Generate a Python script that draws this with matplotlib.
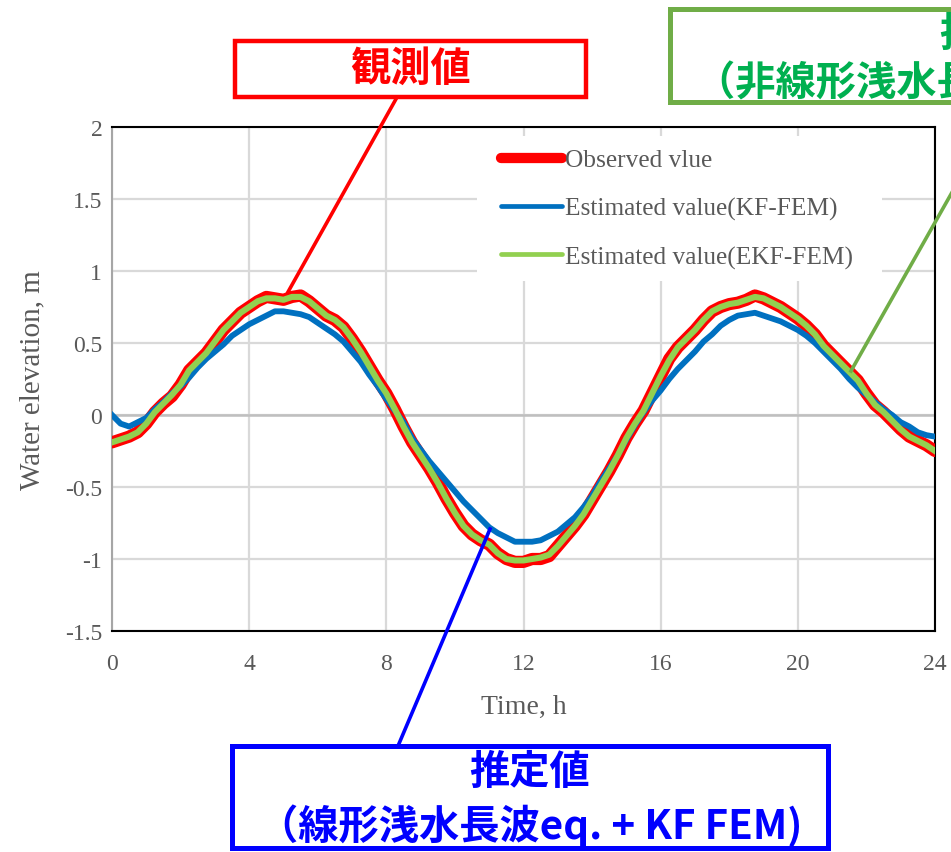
import matplotlib
matplotlib.use("Agg")
import matplotlib.pyplot as plt
import numpy as np
from matplotlib.lines import Line2D
from matplotlib.patches import Rectangle

plt.rcParams["axes.unicode_minus"] = False

# Tidal water elevation over one day, sampled every quarter hour (metres)
time_h = np.arange(0, 24.01, 0.25)

observed = [-0.19, -0.17, -0.15, -0.12, -0.06, 0.02, 0.08, 0.13, 0.21, 0.31,
            0.37, 0.43, 0.51, 0.59, 0.65, 0.71, 0.75, 0.79, 0.82, 0.81,
            0.80, 0.82, 0.83, 0.79, 0.74, 0.69, 0.66, 0.61, 0.53, 0.44,
            0.34, 0.24, 0.15, 0.04, -0.08, -0.19, -0.28, -0.37, -0.47, -0.58,
            -0.68, -0.77, -0.83, -0.87, -0.90, -0.96, -1.00, -1.02, -1.02, -1.00,
            -1.00, -0.98, -0.91, -0.84, -0.77, -0.69, -0.59, -0.49, -0.39, -0.28,
            -0.16, -0.06, 0.03, 0.15, 0.27, 0.39, 0.47, 0.53, 0.59, 0.66,
            0.72, 0.75, 0.77, 0.78, 0.80, 0.83, 0.81, 0.78, 0.75, 0.71,
            0.67, 0.62, 0.56, 0.48, 0.42, 0.36, 0.30, 0.24, 0.15, 0.07,
            0.02, -0.04, -0.10, -0.15, -0.18, -0.21, -0.25]

kf_fem = [0.00, -0.06, -0.08, -0.05, -0.02, 0.04, 0.09, 0.15, 0.20, 0.26,
          0.33, 0.39, 0.44, 0.49, 0.55, 0.59, 0.63, 0.66, 0.69, 0.72,
          0.72, 0.71, 0.70, 0.68, 0.64, 0.60, 0.56, 0.51, 0.44, 0.37,
          0.28, 0.20, 0.11, 0.03, -0.05, -0.16, -0.24, -0.32, -0.39, -0.46,
          -0.53, -0.60, -0.66, -0.72, -0.78, -0.82, -0.85, -0.88, -0.88, -0.88,
          -0.87, -0.84, -0.81, -0.76, -0.71, -0.64, -0.56, -0.46, -0.37, -0.28,
          -0.17, -0.07, 0.02, 0.10, 0.17, 0.25, 0.32, 0.38, 0.44, 0.51,
          0.56, 0.62, 0.66, 0.69, 0.70, 0.71, 0.69, 0.67, 0.65, 0.62,
          0.59, 0.55, 0.50, 0.44, 0.38, 0.32, 0.25, 0.19, 0.14, 0.09,
          0.04, 0.00, -0.05, -0.08, -0.12, -0.14, -0.15]

ekf_fem = [-0.19, -0.17, -0.15, -0.12, -0.06, 0.02, 0.08, 0.14, 0.21, 0.31,
           0.37, 0.43, 0.51, 0.59, 0.65, 0.71, 0.75, 0.79, 0.81, 0.81,
           0.80, 0.82, 0.82, 0.79, 0.74, 0.69, 0.66, 0.61, 0.53, 0.44,
           0.34, 0.24, 0.15, 0.04, -0.08, -0.19, -0.28, -0.37, -0.47, -0.58,
           -0.68, -0.77, -0.83, -0.87, -0.90, -0.96, -1.00, -1.01, -1.01, -1.00,
           -0.99, -0.97, -0.91, -0.84, -0.77, -0.69, -0.59, -0.49, -0.39, -0.28,
           -0.16, -0.06, 0.03, 0.15, 0.27, 0.38, 0.47, 0.53, 0.59, 0.66,
           0.72, 0.75, 0.77, 0.78, 0.80, 0.82, 0.81, 0.78, 0.75, 0.71,
           0.67, 0.62, 0.56, 0.48, 0.42, 0.36, 0.30, 0.24, 0.15, 0.07,
           0.02, -0.04, -0.10, -0.15, -0.18, -0.21, -0.25]

x_ticks = [0, 4, 8, 12, 16, 20, 24]
y_ticks = [-1.5, -1.0, -0.5, 0.0, 0.5, 1.0, 1.5, 2.0]
y_tick_labels = ["-1.5", "-1", "-0.5", "0", "0.5", "1", "1.5", "2"]
legend_labels = ["Observed vlue", "Estimated value(KF-FEM)",
                 "Estimated value(EKF-FEM)"]

W, H = 951, 853
fig = plt.figure(figsize=(W / 100, H / 100), dpi=100)


def fx(px):
    return px / W


def fy(py):
    return 1 - py / H


SERIF = "Liberation Serif"
CJK = ["Noto Sans CJK JP", "DejaVu Sans"]
TXT = "#595959"

ax = fig.add_axes([fx(112), fy(632), fx(935) - fx(112), fy(128) - fy(632)])
ax.set_xlim(0, 24)
ax.set_ylim(-1.5, 2)
ax.set_axisbelow(True)
ax.grid(True, color="#D9D9D9", lw=1.6)
ax.axhline(0, color="#BFBFBF", lw=1.8, zorder=0.6)

ax.set_xticks(x_ticks)
ax.set_xticklabels([str(v) for v in x_ticks])
ax.set_yticks(y_ticks)
ax.set_yticklabels(y_tick_labels)
ax.tick_params(length=0, labelsize=17, labelcolor=TXT)
ax.tick_params(axis="x", pad=16)
ax.tick_params(axis="y", pad=7)
for lab in ax.get_xticklabels() + ax.get_yticklabels():
    lab.set_family(SERIF)

for side in ("top", "right", "bottom"):
    ax.spines[side].set_color("black")
    ax.spines[side].set_linewidth(1.5)
ax.spines["left"].set_color("#A6A6A6")
ax.spines["left"].set_linewidth(1.5)

ax.set_xlabel("Time, h", family=SERIF, fontsize=20, color=TXT, labelpad=14)
ax.set_ylabel("Water elevation, m", family=SERIF, fontsize=21, color=TXT,
              labelpad=14)

# white panel behind the legend hides the gridlines there
ax.add_patch(Rectangle((fx(477), fy(282)), fx(882) - fx(477), fy(137) - fy(282),
                       transform=fig.transFigure, facecolor="white",
                       edgecolor="none", zorder=1))

ax.plot(time_h, observed, color="#FF0000", lw=8.8, solid_joinstyle="round",
        solid_capstyle="round", zorder=3)
ax.plot(time_h, kf_fem, color="#0070C0", lw=4.2, solid_joinstyle="round",
        zorder=4)
ax.plot(time_h, ekf_fem, color="#92D050", lw=4.4, solid_joinstyle="round",
        zorder=5)

handles = [Line2D([], [], color="#FF0000", lw=7.4, solid_capstyle="round"),
           Line2D([], [], color="#0070C0", lw=3.4, solid_capstyle="round"),
           Line2D([], [], color="#92D050", lw=3.4, solid_capstyle="round")]
leg = ax.legend(handles, legend_labels, loc="upper left",
                bbox_to_anchor=(fx(493), fy(142)), bbox_transform=fig.transFigure,
                frameon=False, prop={"family": SERIF, "size": 18.3},
                handlelength=2.4, handletextpad=0.15, labelspacing=1.0,
                borderpad=0.3, borderaxespad=0)
for t in leg.get_texts():
    t.set_color(TXT)
leg.set_zorder(10)


def callout(box, lw, color, edge, lines, line_ys, leader):
    x0, y0, x1, y1 = box
    fig.patches.append(Rectangle((fx(x0), fy(y1)), fx(x1) - fx(x0),
                                 fy(y0) - fy(y1), transform=fig.transFigure,
                                 facecolor="white", edgecolor=edge, lw=lw,
                                 zorder=20))
    cx = (x0 + x1) / 2
    for s, yy in zip(lines, line_ys):
        fig.text(fx(cx), fy(yy), s, ha="center", va="center", color=color,
                 family=CJK, fontsize=29, fontweight="bold", zorder=21)
    (ax_, ay_), (bx_, by_) = leader
    fig.lines.append(Line2D([fx(ax_), fx(bx_)], [fy(ay_), fy(by_)],
                            transform=fig.transFigure, color=edge, lw=2.6,
                            zorder=19))


callout((235, 42, 586, 98), 3.2, "#FF0000", "#FF0000", ["観測値"], [69],
        ((396, 100), (288, 293)))
callout((670, 10, 1330, 103), 3.6, "#00B050", "#70AD47",
        ["推定値", "（非線形浅水長波eq. + EKF FEM)"], [34, 82],
        ((1002, 105), (851, 372)))
callout((232, 747, 828, 849), 3.6, "#0000FF", "#0000FF",
        ["推定値", "（線形浅水長波eq. + KF FEM)"], [772, 826],
        ((398, 747), (490, 530)))

fig.savefig("out.png", dpi=100)
